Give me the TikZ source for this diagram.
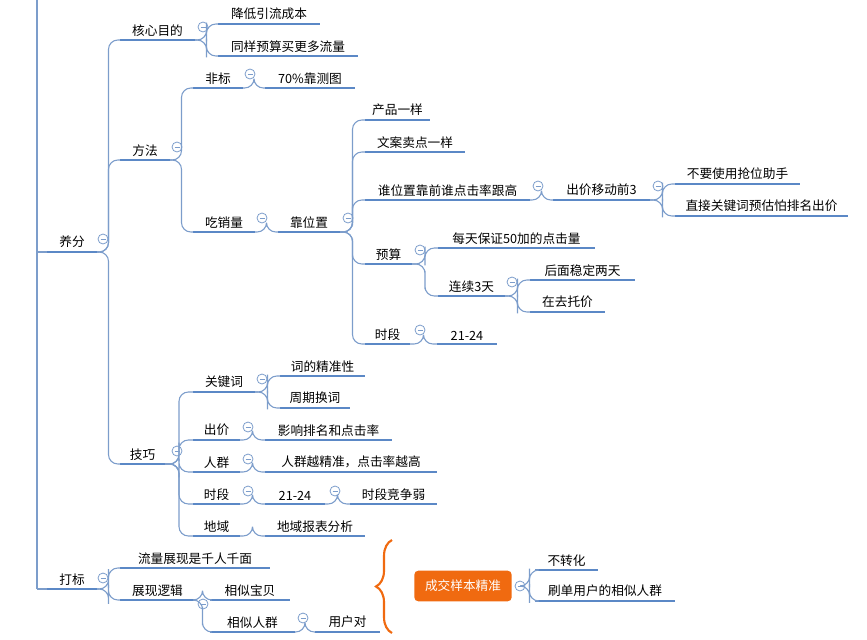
\documentclass[tikz,border=0pt]{standalone}
\usepackage{fontspec}
\setmainfont{Noto Sans CJK SC}
\usetikzlibrary{calc,decorations.pathreplacing}
\definecolor{uline}{HTML}{5B88C6}
\definecolor{conn}{HTML}{7C9DCB}
\definecolor{orng}{HTML}{F06A10}
% topic: name, x start, x end, y of underline, text
\newcommand\topic[5]{%
  \coordinate (#1-w) at (#2,#4);
  \coordinate (#1-e) at (#3,#4);
  \draw[Uline] (#1-w) -- (#1-e);
  \node[Lbl] (#1) at ({(#2+#3)/2},#4-1) {#5};}
\newcommand\link[2]{%
  \draw[Conn] (#1-e) -| ($(#1-e)!.5!(#2-w)$) |- (#2-w);}
\newcommand\fold[3]{%
  \node[Fold] (#1) at (#2,#3) {};
  \draw[conn] ($(#1)+(-2.5,0)$) -- ($(#1)+(2.5,0)$);}
\begin{document}
\begin{tikzpicture}[x=0.75pt,y=-0.75pt]
  \tikzstyle{Uline} = [uline, line width=2.2pt]
  \tikzstyle{Conn}  = [conn, line width=0.8pt, rounded corners=7pt]
  \tikzstyle{Lbl}   = [anchor=south, font=\fontsize{9.5}{11}\selectfont, inner sep=2pt]
  \tikzstyle{Fold}  = [circle, draw=conn, line width=0.6pt, minimum size=7.5pt, inner sep=0pt]
  \useasboundingbox (0,0) rectangle (867,639);

  % root
  \coordinate (root-a) at (37,0);
  \coordinate (root-b) at (37,589);
  \draw[conn, line width=0.8pt] (root-a) -- (root-b);

  % 养分
  \topic{yf}{47}{97}{252}{养分} \fold{f-yf}{103}{239}
  \topic{hx}{120}{195}{40}{核心目的} \fold{f-hx}{203}{27}
  \topic{jd}{218}{320}{24}{降低引流成本}
  \topic{ty}{218}{358}{56}{同样预算买更多流量}
  \topic{ff}{120}{170}{160}{方法} \fold{f-ff}{177}{147}
  \topic{fb}{193}{243}{88}{非标} \fold{f-fb}{250}{74}
  \topic{ct}{265}{355}{88}{70\%靠测图}
  \topic{cx}{193}{255}{232}{吃销量} \fold{f-cx}{262}{218}
  \topic{kw}{278}{340}{232}{靠位置} \fold{f-kw}{348}{218}
  \topic{cp}{365}{430}{120}{产品一样}
  \topic{wa}{365}{465}{152}{文案卖点一样}
  \topic{sw}{365}{530}{200}{谁位置靠前谁点击率跟高} \fold{f-sw}{538}{186}
  \topic{cj}{553}{650}{200}{出价移动前3} \fold{f-cj}{658}{186}
  \topic{by}{675}{800}{184}{不要使用抢位助手}
  \topic{zj}{675}{848}{216}{直接关键词预估怕排名出价}
  \topic{ys}{365}{412}{264}{预算} \fold{f-ys}{420}{250}
  \topic{mt}{438}{595}{248}{每天保证50加的点击量}
  \topic{lx}{438}{505}{296}{连续3天} \fold{f-lx}{512}{282}
  \topic{hm}{530}{635}{280}{后面稳定两天}
  \topic{zq}{530}{605}{312}{在去托价}
  \topic{sd}{365}{410}{344}{时段} \fold{f-sd}{420}{330}
  \topic{sa}{437}{497}{344}{21-24}
  \topic{jq}{120}{165}{464}{技巧} \fold{f-jq}{177}{451}
  \topic{gj}{193}{255}{392}{关键词} \fold{f-gj}{262}{379}
  \topic{jz}{280}{365}{376}{词的精准性}
  \topic{zh}{280}{350}{408}{周期换词}
  \topic{cjj}{193}{240}{440}{出价} \fold{f-cjj}{248}{427}
  \topic{yx}{265}{392}{440}{影响排名和点击率}
  \topic{rq}{193}{240}{472}{人群} \fold{f-rq}{248}{459}
  \topic{rj}{265}{437}{472}{人群越精准，点击率越高}
  \topic{sdd}{193}{240}{504}{时段} \fold{f-sdd}{248}{491}
  \topic{sb}{265}{325}{504}{21-24} \fold{f-sb}{335}{491}
  \topic{jr}{350}{437}{504}{时段竞争弱}
  \topic{dy}{193}{240}{536}{地域}
  \topic{db}{265}{365}{536}{地域报表分析}

  % 打标
  \topic{db0}{47}{97}{589}{打标} \fold{f-db0}{103}{578}
  \topic{ll}{120}{270}{568}{流量展现是千人千面}
  \topic{zs}{120}{195}{600}{展现逻辑} \fold{f-zs}{203}{604}
  \topic{xb}{210}{290}{600}{相似宝贝}
  \topic{xr}{210}{295}{632}{相似人群} \fold{f-xr}{303}{618}
  \topic{yh}{315}{380}{632}{用户对}

  \draw[Conn] (37,252) -- (yf-w);
  \draw[Conn] (37,589) -- (db0-w);
  \foreach \p/\c in {yf/hx, yf/ff, yf/jq, hx/jd, hx/ty, ff/fb, ff/cx, fb/ct, cx/kw,
      kw/cp, kw/wa, kw/sw, kw/ys, kw/sd, sw/cj, cj/by, cj/zj, ys/mt, ys/lx,
      lx/hm, lx/zq, sd/sa, jq/gj, jq/cjj, jq/rq, jq/sdd, jq/dy, gj/jz, gj/zh,
      cjj/yx, rq/rj, sdd/sb, sb/jr, dy/db, db0/ll, db0/zs, zs/xb, zs/xr, xr/yh}
    {\link{\p}{\c}}

  % summary
  \coordinate (br-a) at (392,540);
  \coordinate (br-b) at (392,633);
  \draw[orng, line width=1.6pt, decorate, decoration={brace, amplitude=12pt, mirror}] (br-a) -- (br-b);
  \node[fill=orng, rounded corners=3pt, text=white, minimum width=73pt, minimum height=23pt,
        font=\fontsize{9.5}{11}\selectfont\itshape] (cy) at (463,586) {成交样本精准};
  \fold{f-cy}{520}{586}
  \coordinate (cy-e) at (524,586);
  \topic{bz}{535}{598}{570}{不转化}
  \topic{sh}{535}{675}{601}{刷单用户的相似人群}
  \link{cy}{bz} \link{cy}{sh}
\end{tikzpicture}
\end{document}
